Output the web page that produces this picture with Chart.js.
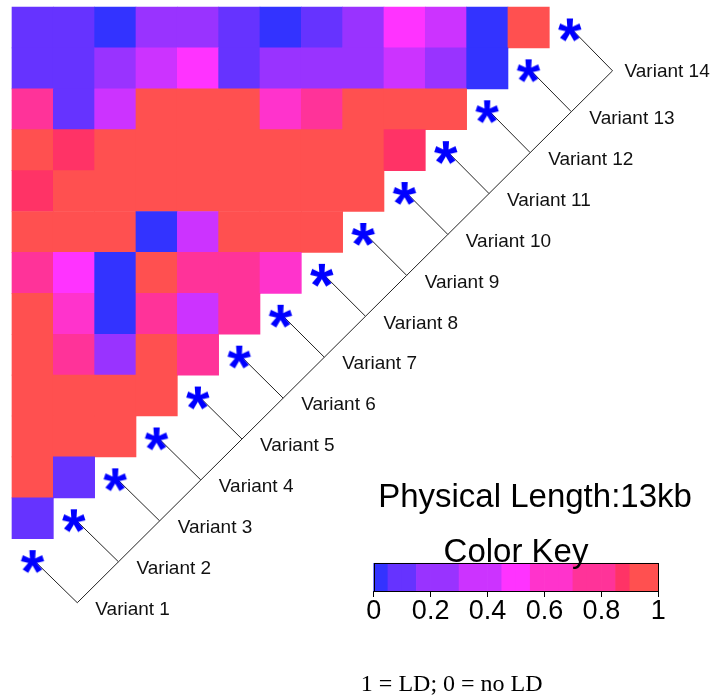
<!DOCTYPE html>
<html>
<head>
<meta charset="utf-8">
<title>LD heatmap</title>
<script src="https://cdn.jsdelivr.net/npm/chart.js@4.4.1/dist/chart.umd.min.js"></script>
<style>
  html, body { margin: 0; padding: 0; background: #fff; }
  #wrap { position: relative; width: 715px; height: 697px; }
</style>
</head>
<body>
<div id="wrap"><canvas id="ld"></canvas></div>
<script>
// variants along the map and their physical position (kb)
const variants = [
  "Variant 1", "Variant 2", "Variant 3", "Variant 4", "Variant 5", "Variant 6", "Variant 7",
  "Variant 8", "Variant 9", "Variant 10", "Variant 11", "Variant 12", "Variant 13", "Variant 14",
];
const positionsKb = [0, 1, 2, 3, 4, 5, 6, 7, 8, 9, 10, 11, 12, 13];

// LD per drawn row, top row first. Row r pairs Variant (14 - r) with Variant 1, 2, ...
const ldRows = [
  [0.1, 0.1, 0.02, 0.22, 0.22, 0.1, 0.02, 0.1, 0.22, 0.5, 0.38, 0.02, 0.97],
  [0.1, 0.1, 0.22, 0.38, 0.5, 0.1, 0.22, 0.22, 0.22, 0.38, 0.22, 0.02],
  [0.78, 0.1, 0.38, 0.97, 0.97, 0.97, 0.62, 0.78, 0.97, 0.97, 0.97],
  [0.97, 0.87, 0.97, 0.97, 0.97, 0.97, 0.97, 0.97, 0.97, 0.87],
  [0.87, 0.97, 0.97, 0.97, 0.97, 0.97, 0.97, 0.97, 0.97],
  [0.97, 0.97, 0.97, 0.02, 0.38, 0.97, 0.97, 0.97],
  [0.78, 0.5, 0.02, 0.97, 0.78, 0.78, 0.62],
  [0.97, 0.62, 0.02, 0.78, 0.38, 0.78],
  [0.97, 0.78, 0.22, 0.97, 0.78],
  [0.97, 0.97, 0.97, 0.97],
  [0.97, 0.97, 0.97],
  [0.97, 0.1],
  [0.1],
  [],
];

// colour key
const keyBreaks = [0, 0.05, 0.15, 0.3, 0.45, 0.55, 0.7, 0.85, 0.9, 1];
const keyColors = ["#3333FF", "#6633FF", "#9933FF", "#CC33FF", "#FF33FF", "#FF33CC", "#FF3399", "#FF3366", "#FF5050"];
const keyTicks = [0, 0.2, 0.4, 0.6, 0.8, 1];

// layout, in cell units (1 = one heatmap cell)
const mapStart = { x: 1.58, y: 14.565 };
const mapEnd = { x: 14.53, y: 1.56 };
const keyTop = 13.601;
const keyBottom = 14.279;

function ldColor(v) {
  for (let i = keyColors.length - 1; i >= 0; i--) {
    if (v >= keyBreaks[i]) return keyColors[i];
  }
  return keyColors[0];
}

const nVar = variants.length;

const cells = [];
ldRows.forEach((row, r) => {
  row.forEach((v, c) => cells.push({ x: c + 0.5, y: [r, r + 1], v: v }));
});

// key drawn as 0.05 wide slices so every slice has the same width
const keyCells = [];
for (let b = 0; b < 20; b++) {
  const mid = (b + 0.5) / 20;
  keyCells.push({ x: mid, y: [keyTop, keyBottom], v: mid });
}

const stars = variants.map((_, k) => ({ x: k + 0.5, y: nVar - 1 - k + 0.5 }));

const span = positionsKb[nVar - 1] - positionsKb[0];
const mapPoints = positionsKb.map((p) => {
  const t = (p - positionsKb[0]) / span;
  return { x: mapStart.x + t * (mapEnd.x - mapStart.x), y: mapStart.y + t * (mapEnd.y - mapStart.y) };
});

const connectors = [];
stars.forEach((s, k) => {
  connectors.push(s, mapPoints[k], { x: null, y: null });
});

function makeStar() {
  const c = document.createElement("canvas");
  c.width = 36;
  c.height = 36;
  const g = c.getContext("2d");
  const fam = '"Liberation Sans", Arial, sans-serif';
  g.font = "bold 100px " + fam;
  let m = g.measureText("*");
  const size = (100 * 23) / (m.actualBoundingBoxAscent + m.actualBoundingBoxDescent);
  g.font = "bold " + size + "px " + fam;
  m = g.measureText("*");
  const w = m.actualBoundingBoxLeft + m.actualBoundingBoxRight;
  const h = m.actualBoundingBoxAscent + m.actualBoundingBoxDescent;
  g.fillStyle = "#0000FF";
  g.fillText("*", 18 - w / 2 + m.actualBoundingBoxLeft, 20 - h / 2 + m.actualBoundingBoxAscent);
  return c;
}

const textPlugin = {
  id: "ldText",
  afterDatasetsDraw(chart) {
    const { ctx } = chart;
    const { x, y, xk } = chart.scales;
    ctx.save();

    // key frame
    const kx0 = Math.round(xk.getPixelForValue(0)) + 0.5;
    const kx1 = Math.round(xk.getPixelForValue(1)) + 0.5;
    const ky0 = Math.round(y.getPixelForValue(keyTop)) + 0.5;
    const ky1 = Math.round(y.getPixelForValue(keyBottom)) + 0.5;
    ctx.strokeStyle = "#000";
    ctx.lineWidth = 1;
    ctx.strokeRect(kx0, ky0, kx1 - kx0, ky1 - ky0);

    // variant names beside the map line
    ctx.fillStyle = "#111";
    ctx.font = '19px "Liberation Sans", Arial, sans-serif';
    ctx.textAlign = "left";
    ctx.textBaseline = "middle";
    mapPoints.forEach((p, k) => {
      const last = k === nVar - 1;
      ctx.fillText(variants[k], x.getPixelForValue(p.x) + (last ? 12 : 18), y.getPixelForValue(p.y) + (last ? 1 : 7));
    });

    ctx.fillStyle = "#000";
    ctx.textAlign = "center";
    ctx.textBaseline = "alphabetic";
    ctx.font = '33px "Liberation Sans", Arial, sans-serif';
    ctx.fillText("Physical Length:13kb", x.getPixelForValue(12.654), y.getPixelForValue(12.218));
    ctx.fillText("Color Key", xk.getPixelForValue(0.5), y.getPixelForValue(13.562));

    ctx.font = '24px "Liberation Serif", "Times New Roman", serif';
    ctx.fillText("1 = LD; 0 = no LD", x.getPixelForValue(10.639), y.getPixelForValue(16.723));
    ctx.restore();
  },
};

new Chart(document.getElementById("ld"), {
  type: "bar",
  data: {
    datasets: [
      {
        type: "scatter",
        data: stars,
        pointStyle: makeStar(),
        pointRadius: 10,
        xAxisID: "x",
        yAxisID: "y",
      },
      {
        type: "line",
        data: connectors,
        borderColor: "#222",
        borderWidth: 1,
        pointRadius: 0,
        spanGaps: false,
        xAxisID: "x",
        yAxisID: "y",
      },
      {
        type: "line",
        data: mapPoints,
        borderColor: "#222",
        borderWidth: 1,
        pointRadius: 0,
        xAxisID: "x",
        yAxisID: "y",
      },
      {
        type: "bar",
        data: cells,
        backgroundColor: (c) => (c.raw ? ldColor(c.raw.v) : keyColors[0]),
        borderWidth: 0,
        grouped: false,
        barPercentage: 1,
        categoryPercentage: 1,
        xAxisID: "x",
        yAxisID: "y",
      },
      {
        type: "bar",
        data: keyCells,
        backgroundColor: (c) => (c.raw ? ldColor(c.raw.v) : keyColors[0]),
        borderWidth: 0,
        grouped: false,
        barPercentage: 1,
        categoryPercentage: 1,
        xAxisID: "xk",
        yAxisID: "y",
      },
    ],
  },
  options: {
    responsive: true,
    maintainAspectRatio: false,
    animation: false,
    layout: { padding: 0, autoPadding: false },
    scales: {
      x: {
        type: "linear",
        display: false,
        offset: false,
        min: -0.2903,
        max: 17.009,
        ticks: { stepSize: 1, includeBounds: false },
        grid: { offset: false },
      },
      y: {
        type: "linear",
        display: false,
        reverse: true,
        min: -0.1711,
        max: 16.87,
      },
      xk: {
        type: "linear",
        position: { y: keyBottom },
        offset: false,
        min: -1.3131,
        max: 1.1992,
        afterBuildTicks: (scale) => {
          scale.ticks = keyTicks.map((value) => ({ value }));
        },
        ticks: {
          autoSkip: false,
          maxRotation: 0,
          padding: -2,
          color: "#000",
          font: { family: '"Liberation Sans", Arial, sans-serif', size: 27 },
          callback: (v) => String(v),
        },
        grid: { offset: false, drawOnChartArea: false, drawTicks: true, tickLength: 6, color: "#000" },
        border: { display: false },
      },
    },
    plugins: {
      legend: { display: false },
      tooltip: { enabled: false },
    },
  },
  plugins: [textPlugin],
});
</script>
</body>
</html>
